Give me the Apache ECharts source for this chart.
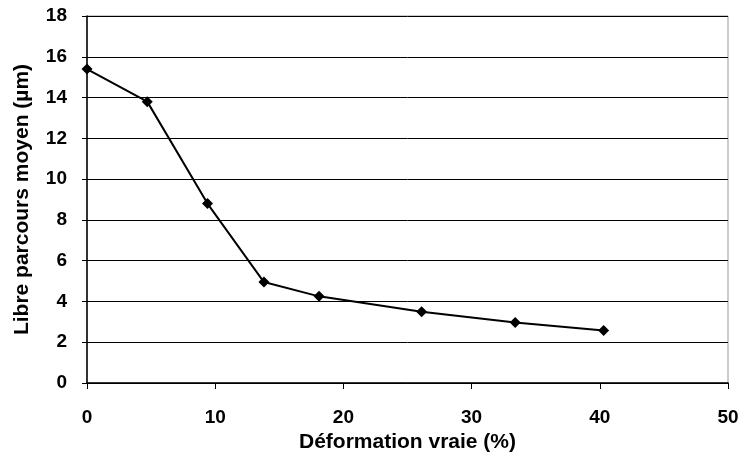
<!DOCTYPE html>
<html><head><meta charset="utf-8">
<script src="https://cdn.jsdelivr.net/npm/echarts@6/dist/echarts.min.js"></script>
<style>html,body{margin:0;padding:0;background:#fff}#c{width:742px;height:454px}</style>
</head><body><div id="c"></div>
<script>
var xValues = [0, 4.7, 9.4, 13.8, 18.1, 26.1, 33.4, 40.3];
var yValues = [15.4, 13.8, 8.8, 4.95, 4.25, 3.5, 2.97, 2.58];
var xTicks = [0, 10, 20, 30, 40, 50];
var yTicks = [0, 2, 4, 6, 8, 10, 12, 14, 16, 18];
var xTitle = 'Déformation vraie (%)';
var yTitle = 'Libre parcours moyen (µm)';

var chart = echarts.init(document.getElementById('c'));
var font = 'Liberation Sans, Arial, sans-serif';
chart.setOption({
  animation: false,
  backgroundColor: '#fff',
  grid: {left: 87, right: 14, top: 16, bottom: 71, show: true, borderColor: '#999', borderWidth: 1,
         outerBoundsMode: 'none', containLabel: false},
  xAxis: {
    type: 'value', min: xTicks[0], max: xTicks[xTicks.length-1], interval: 10,
    name: xTitle, nameLocation: 'middle', nameGap: 44,
    nameTextStyle: {fontFamily: font, fontWeight: 'bold', fontSize: 21, color: '#000'},
    axisLine: {lineStyle: {color: '#000', width: 1.5}},
    axisTick: {show: true, inside: false, length: 6, lineStyle: {color: '#000'}},
    axisLabel: {fontFamily: font, fontWeight: 'bold', fontSize: 19, color: '#000', margin: 25},
    splitLine: {show: false}
  },
  yAxis: {
    type: 'value', min: yTicks[0], max: yTicks[yTicks.length-1], interval: 2,
    name: yTitle, nameLocation: 'middle', nameGap: 54, nameRotate: 90,
    nameTextStyle: {fontFamily: font, fontWeight: 'bold', fontSize: 21, color: '#000'},
    axisLine: {show: true, lineStyle: {color: '#000', width: 1.5}},
    axisTick: {show: true, inside: false, length: 5, lineStyle: {color: '#000'}},
    axisLabel: {fontFamily: font, fontWeight: 'bold', fontSize: 19, color: '#000', margin: 20},
    splitLine: {show: true, lineStyle: {color: '#000', width: 1}}
  },
  series: [{
    type: 'line',
    data: xValues.map(function(x, i){ return [x, yValues[i]]; }),
    symbol: 'diamond', symbolSize: 11,
    itemStyle: {color: '#000'},
    lineStyle: {color: '#000', width: 2}
  }]
});
</script></body></html>
